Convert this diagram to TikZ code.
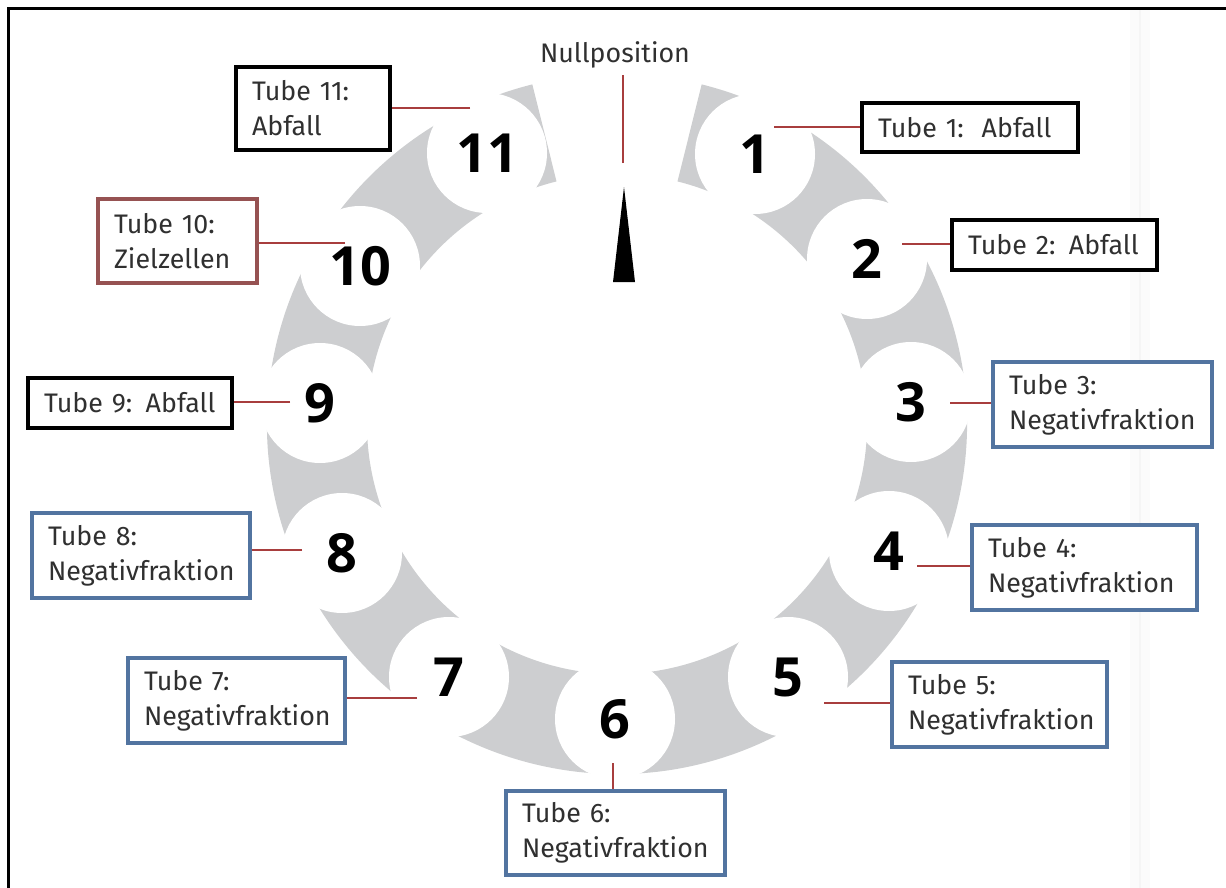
\documentclass[tikz,border=0pt]{standalone}
\usepackage{fontspec}
\setmainfont{Fira Sans}[WordSpace=0.75]
\newfontfamily\numfont{Open Sans}
\definecolor{ringgray}{RGB}{205,206,208}
\definecolor{leadred}{RGB}{168,62,62}
\definecolor{boxblue}{RGB}{82,116,160}
\definecolor{boxred}{RGB}{150,82,82}
\definecolor{txtgray}{RGB}{48,48,48}
\begin{document}
\begin{tikzpicture}[x=0.5pt,y=-0.5pt,
  lbl/.style={draw,line width=2pt,fill=white,align=left,inner xsep=8pt,inner ysep=0pt,text=txtgray,font=\fontsize{13.4}{17.5}\selectfont},
  num/.style={circle,fill=white,minimum size=60pt,inner sep=0pt,font=\numfont\bfseries\fontsize{27}{27}\selectfont},
  lead/.style={leadred,line width=1pt}]
  \useasboundingbox (0,0) rectangle (1226,888);
  \fill[black!1.5] (1130,9) rectangle (1150,888);
  \draw[black!4,line width=1pt] (1140,9) -- (1140,888);
  \draw[line width=1.5pt] (8,888) -- (8,9) -- (1226,9);
  \begin{scope}[shift={(617,424)}]
    \fill[ringgray] (-76:350) arc[start angle=-76,end angle=256,radius=350] -- (256:250) arc[start angle=256,end angle=-76,radius=250] -- cycle;
  \end{scope}
  \node[num] (n1) at (755,154){1};
  \node[num] (n2) at (867,259){2};
  \node[num] (n3) at (911,402){3};
  \node[num] (n4) at (889,551){4};
  \node[num] (n5) at (788,677){5};
  \node[num] (n6) at (615,719){6};
  \node[num] (n7) at (449,677){7};
  \node[num] (n8) at (342,553){8};
  \node[num] (n9) at (320,403){9};
  \node[num] (n10) at (360,266){10};
  \node[num] (n11) at (487,153){11};
  \fill (624,187) -- (635,282) -- (613,282) -- cycle;
  \node[inner sep=3pt,text=txtgray,font=\fontsize{13.4}{17.5}\selectfont] (null) at (615,55){Nullposition};
  \node[lbl,text width=92pt,minimum height=24.5pt] (b1) at (970,127.5){Tube 1:~~Abfall};
  \node[lbl,text width=86.5pt,minimum height=25pt] (b2) at (1054.5,245){Tube 2: Abfall};
  \node[lbl,draw=boxblue,text width=93.5pt,minimum height=42.5pt] (b3) at (1102.5,404.5){Tube 3:\\Negativfraktion};
  \node[lbl,draw=boxblue,text width=96.5pt,minimum height=42.5pt] (b4) at (1084.5,567.5){Tube 4:\\Negativfraktion};
  \node[lbl,draw=boxblue,text width=91.5pt,minimum height=42.5pt] (b5) at (999.5,704.5){Tube 5:\\Negativfraktion};
  \node[lbl,draw=boxblue,text width=93.5pt,minimum height=42pt] (b6) at (615.5,833){Tube 6:\\Negativfraktion};
  \node[lbl,draw=boxblue,text width=92.5pt,minimum height=42.5pt] (b7) at (236.5,700.5){Tube 7:\\Negativfraktion};
  \node[lbl,draw=boxblue,text width=93pt,minimum height=42.5pt] (b8) at (141,555.5){Tube 8:\\Negativfraktion};
  \node[lbl,text width=86pt,minimum height=25pt] (b9) at (130,403){Tube 9: Abfall};
  \node[lbl,draw=boxred,text width=63.5pt,minimum height=42pt] (b10) at (177.5,241){Tube 10:\\Zielzellen};
  \node[lbl,text width=61pt,minimum height=41.5pt] (b11) at (313,108.5){Tube 11:\\Abfall};
  \coordinate (z0) at (623,163);
  \coordinate (p1) at (774,127);
  \coordinate (p2) at (902,244);
  \coordinate (p3) at (950,403);
  \coordinate (p4) at (917,566);
  \coordinate (p5) at (824,703);
  \coordinate (p6) at (613,763);
  \coordinate (p7) at (417,698);
  \coordinate (p8) at (302,550);
  \coordinate (p9) at (290,402);
  \coordinate (p10) at (345,243);
  \coordinate (p11) at (470,108);
  \draw[lead] (z0) -- (z0 |- null.south);
  \draw[lead] (p1) -- (p1 -| b1.west);
  \draw[lead] (p2) -- (p2 -| b2.west);
  \draw[lead] (p3) -- (p3 -| b3.west);
  \draw[lead] (p4) -- (p4 -| b4.west);
  \draw[lead] (p5) -- (p5 -| b5.west);
  \draw[lead] (p6) -- (p6 |- b6.north);
  \draw[lead] (p7) -- (p7 -| b7.east);
  \draw[lead] (p8) -- (p8 -| b8.east);
  \draw[lead] (p9) -- (p9 -| b9.east);
  \draw[lead] (p10) -- (p10 -| b10.east);
  \draw[lead] (p11) -- (p11 -| b11.east);
\end{tikzpicture}
\end{document}
